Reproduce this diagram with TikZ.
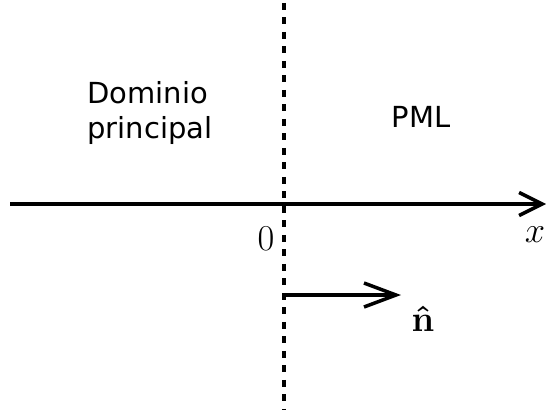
\documentclass[tikz,border=0pt]{standalone}
\usepackage{fontspec}
\usepackage{amsmath}
\setsansfont{DejaVu Sans}
\usetikzlibrary{arrows.meta}
\newcommand{\vb}{\mathbf}

\tikzset{
    axisline/.style={line width=2pt},
    wallline/.style={line width=2.6pt, dash pattern=on 0.14cm off 0.15cm, dash phase=-0.06cm},
    regiontext/.style={font=\sffamily\fontsize{16.5}{19.5}\selectfont, inner sep=0},
    mathlabel/.style={font=\fontsize{20}{24}\selectfont, inner sep=0},
}

\begin{document}
\begin{tikzpicture}[x=0.02cm, y=-0.02cm]

    \useasboundingbox (0,0) rectangle (546,409);

    \coordinate (W1) at (284,0);
    \coordinate (W2) at (284,409);
    \coordinate (X1) at (10,204);
    \coordinate (X2) at (546,204);
    \coordinate (N1) at (284,295);
    \coordinate (N2) at (401,295);

    \draw[wallline] (W1) -- (W2);
    \draw[axisline, -{Straight Barb[length=0.46cm, width=0.46cm]}] (X1) -- (X2);
    \draw[axisline, -{Straight Barb[length=0.64cm, width=0.48cm]}] (N1) -- (N2);

    \node[regiontext, align=left] (dom) at (150,113) {Dominio\\principal};
    \node[regiontext, anchor=base] (pml) at (421,127) {PML};

    \node[mathlabel, anchor=base] (zero) at (266,250) {$0$};
    \node[mathlabel, anchor=base] (xlab) at (535,242) {$x$};
    \node[mathlabel, anchor=base] (nhat) at (423,331) {$\boldsymbol{\hat{\vb{n}}}$};

\end{tikzpicture}
\end{document}
